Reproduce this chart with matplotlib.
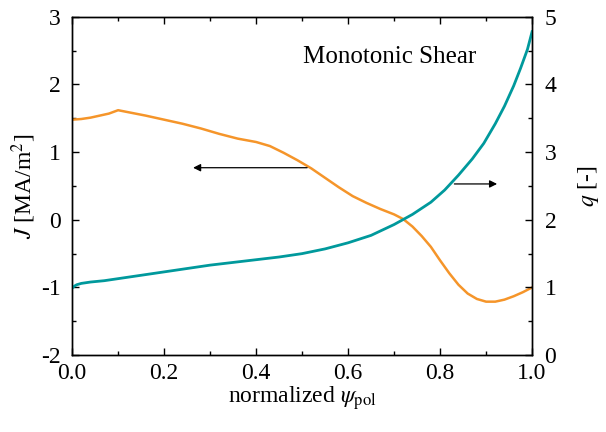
import numpy as np
import matplotlib
matplotlib.use("Agg")
from matplotlib import pyplot as plt
from matplotlib.ticker import MultipleLocator

plt.rcParams["font.family"] = "Liberation Serif"
plt.rcParams["mathtext.fontset"] = "stix"
plt.rcParams["font.size"] = 17
plt.rcParams["axes.unicode_minus"] = False

# current density J profile (left axis)
psi_j = [0.0, 0.02, 0.04, 0.06, 0.08, 0.10, 0.13, 0.16, 0.20, 0.24, 0.28, 0.32,
         0.36, 0.40, 0.43, 0.46, 0.49, 0.52, 0.55, 0.58, 0.61, 0.64, 0.67,
         0.70, 0.72, 0.74, 0.76, 0.78, 0.80, 0.82, 0.84, 0.86, 0.88, 0.90,
         0.92, 0.94, 0.96, 0.98, 1.0]
J = [1.48, 1.49, 1.51, 1.54, 1.57, 1.62, 1.58, 1.54, 1.48, 1.42, 1.35, 1.27,
     1.20, 1.15, 1.09, 0.99, 0.88, 0.76, 0.62, 0.48, 0.35, 0.25, 0.16,
     0.08, 0.01, -0.10, -0.24, -0.40, -0.60, -0.79, -0.96, -1.09, -1.17, -1.21,
     -1.21, -1.18, -1.13, -1.07, -1.00]

# safety factor q profile (right axis)
psi_q = [0.0, 0.005, 0.01, 0.02, 0.04, 0.07, 0.10, 0.15, 0.20, 0.25, 0.30,
         0.35, 0.40, 0.45, 0.50, 0.55, 0.60, 0.65, 0.70, 0.74, 0.78, 0.81,
         0.84, 0.87, 0.895, 0.92, 0.94, 0.96, 0.975, 0.99, 1.0]
q = [0.99, 1.02, 1.04, 1.06, 1.08, 1.10, 1.13, 1.18, 1.23, 1.28, 1.33,
     1.37, 1.41, 1.45, 1.50, 1.57, 1.66, 1.77, 1.93, 2.08, 2.26, 2.44,
     2.66, 2.90, 3.13, 3.42, 3.68, 3.98, 4.24, 4.52, 4.78]

orange = "#F5952A"
teal = "#00999C"

fig = plt.figure(figsize=(6.06, 4.32), dpi=100)
ax = fig.add_axes([0.119, 0.178, 0.759, 0.783])
ax2 = ax.twinx()

ax.plot(psi_j, J, color=orange, lw=1.8)
ax2.plot(psi_q, q, color=teal, lw=2.0)

ax.set_xlim(0, 1)
ax.set_ylim(-2, 3)
ax2.set_ylim(0, 5)

ax.xaxis.set_major_locator(MultipleLocator(0.2))
ax.xaxis.set_minor_locator(MultipleLocator(0.1))
ax.yaxis.set_major_locator(MultipleLocator(1))
ax.yaxis.set_minor_locator(MultipleLocator(0.5))
ax2.yaxis.set_major_locator(MultipleLocator(1))
ax2.yaxis.set_minor_locator(MultipleLocator(0.5))
ax.xaxis.set_major_formatter(plt.FormatStrFormatter("%.1f"))

ax.tick_params(which="both", direction="in", top=True, right=False)
ax.tick_params(which="major", length=5, width=1)
ax.tick_params(which="minor", length=3, width=1)
ax.tick_params(axis="x", pad=6)
ax.tick_params(axis="y", pad=8)
ax2.tick_params(which="both", direction="in")
ax2.tick_params(which="major", length=5, width=1, pad=9)
ax2.tick_params(which="minor", length=3, width=1)
for a in (ax, ax2):
    for s in a.spines.values():
        s.set_linewidth(1.0)

ax.set_xlabel(r"normalized $\psi_{\mathrm{pol}}$", labelpad=0)
ax.set_ylabel(r"$J$ [MA/m$^2$]", labelpad=2)
ax2.set_ylabel(r"$q$ [-]", labelpad=14)

ax.annotate("", xy=(0.257, 0.77), xytext=(0.517, 0.77),
            arrowprops=dict(arrowstyle="-|>", color="black", lw=0.9,
                            mutation_scale=11))
ax.annotate("", xy=(0.93, 0.53), xytext=(0.825, 0.53),
            arrowprops=dict(arrowstyle="-|>", color="black", lw=0.9,
                            mutation_scale=11))

ax.text(0.69, 2.41, "Monotonic Shear", ha="center", va="center", fontsize=18)

fig.savefig("out.png", dpi=100)
